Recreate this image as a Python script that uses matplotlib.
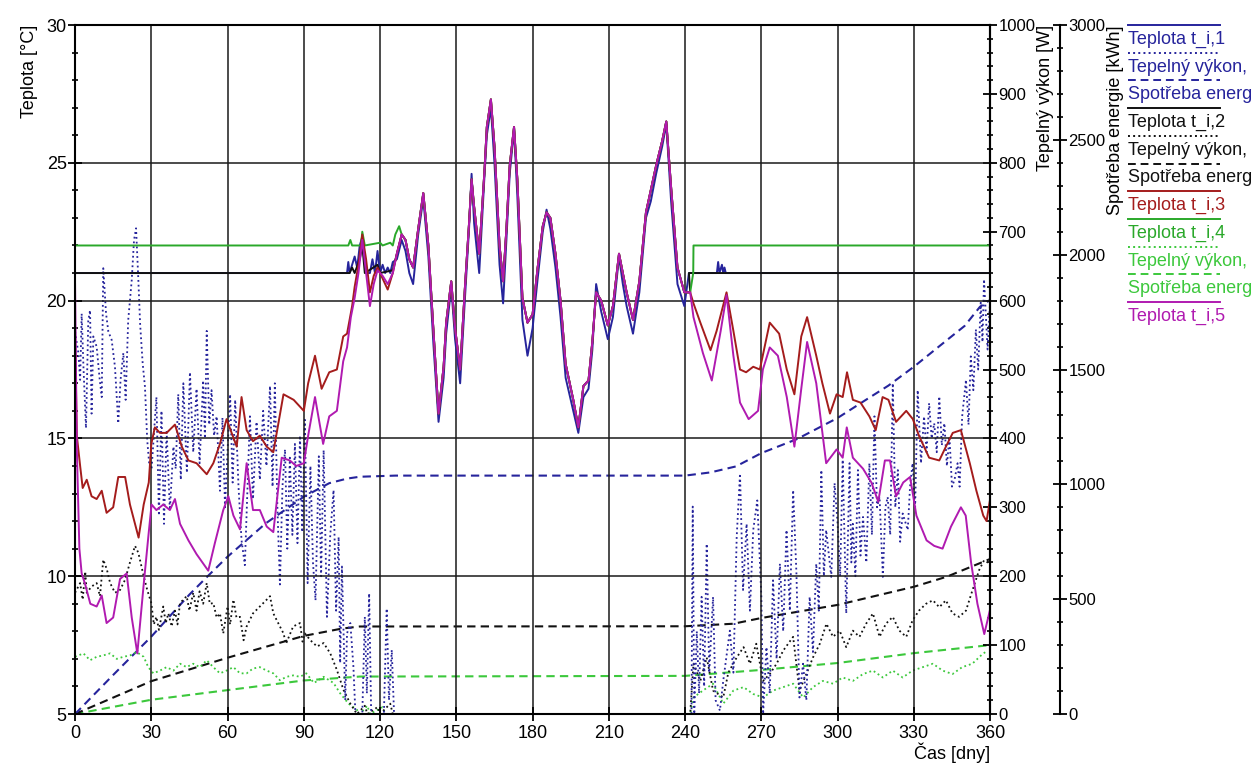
import numpy as np
import matplotlib
matplotlib.use("Agg")
import matplotlib.pyplot as plt
from matplotlib.lines import Line2D
from matplotlib.ticker import MultipleLocator

plt.rcParams['font.family'] = ['Liberation Sans', 'DejaVu Sans']
plt.rcParams['font.size'] = 13

# ---- data: (day, value) ----
# zone 3 (red) and zone 5 (magenta) free running in winter/spring [degC]
t3_winter = np.array([(0, 18.8), (0.7, 15.1), (2, 14.0), (3, 13.2), (4.6, 13.5), (6.5, 12.9), (8.5, 12.8), (10.5, 13.1),
                      (12.4, 12.3), (15, 12.5), (17, 13.6), (19.7, 13.6), (21.6, 12.6), (23.6, 11.9), (25, 11.4), (27, 12.6),
                      (29, 13.4), (30, 14.8), (31.4, 15.4), (33.4, 15.2), (36, 15.2), (39.3, 15.5), (42, 14.7), (44.6, 14.2),
                      (47.8, 14.1), (51.8, 13.7), (54.4, 14.1), (57, 14.8), (59.6, 15.7), (61.6, 15.2), (63.6, 14.7),
                      (65.5, 16.5), (67.5, 15.3), (70, 14.9), (72.7, 15.1), (75.4, 14.7), (78, 14.5), (82, 16.6), (86, 16.4),
                      (90, 16.0), (91.7, 17.0), (94.4, 18.0), (97, 16.8), (100, 17.4), (103, 17.5), (105.5, 18.7), (107, 18.8),
                      (109, 19.8), (110, 20.5), (111.5, 21.3), (113, 22.4), (114.5, 21.5), (116, 20.3), (117.5, 20.9),
                      (119, 21.2), (121, 20.8), (123, 20.4), (125, 21.0)])
t5_winter = np.array([(0, 20.6), (0.7, 14.6), (1.7, 11.0), (2.6, 10.1), (4, 9.7), (6, 9.0), (8.5, 8.9), (10.5, 9.3),
                      (12.4, 8.3), (15, 8.5), (17.7, 9.9), (20.3, 10.1), (22.3, 8.5), (24.5, 7.2), (27, 9.7), (29, 11.6),
                      (30.1, 12.6), (32, 12.4), (34.7, 12.6), (37.3, 12.4), (39.3, 12.8), (41.3, 11.9), (44.6, 11.3),
                      (47.8, 10.8), (52.4, 10.2), (55, 11.2), (58.3, 12.4), (60.3, 12.9), (62.3, 12.2), (64.9, 11.7),
                      (67.5, 14.1), (70, 12.4), (72.7, 12.4), (75.4, 11.8), (78, 11.6), (81.3, 14.3), (84.5, 14.2), (87, 14.0),
                      (90, 14.1), (91.7, 15.1), (94.4, 16.5), (97.6, 14.8), (100, 15.8), (103, 16.0), (105.5, 17.8),
                      (107, 18.3), (108.5, 19.4), (110, 20.1), (111.5, 21.0), (113, 22.2), (114.5, 21.0), (116, 19.8),
                      (117.5, 20.6), (119, 21.1), (121, 20.9), (123, 20.6), (125, 21.0)])

# summer: all zones float together
t_summer = np.array([(126.6, 21.7), (128.5, 22.4), (130, 22.2), (131.5, 21.5), (133, 21.2), (135, 22.6), (137, 23.9),
                     (139, 22.0), (141, 18.9), (143, 15.9), (145, 17.6), (146, 19.2), (148, 20.7), (149.5, 19.0),
                     (151.5, 17.5), (153.4, 20.5), (155, 22.8), (156, 24.4), (157, 23.4), (159, 21.7), (161, 24.6),
                     (162, 26.3), (163.6, 27.3), (165, 25.6), (167, 22.0), (168.4, 20.7), (169.7, 22.6), (171, 24.9),
                     (172.7, 26.3), (174, 24.4), (176, 20.1), (178, 19.2), (180, 19.5), (182, 21.2), (184, 22.7),
                     (185.5, 23.2), (187, 23.0), (189, 21.7), (191, 20.0), (193, 17.7), (196, 16.4), (198, 15.4),
                     (200, 16.9), (202, 17.1), (203.5, 18.5), (205, 20.3), (207, 20.0), (209.6, 19.1), (211.6, 19.8),
                     (214, 21.7), (215.5, 21.0), (217, 20.3), (219.5, 19.3), (222, 20.7), (224.6, 23.2), (226.5, 24.0),
                     (228.6, 24.9), (231, 25.8), (232.6, 26.5), (234.5, 24.1), (237, 21.2), (239.7, 20.3), (242, 20.3)])
# zone 1 dips a little deeper
t1_summer = np.array([(126.6, 21.5), (128.5, 22.2), (130, 21.8), (131.5, 21.0), (133, 20.6), (135, 22.4), (137, 23.7),
                      (139, 21.6), (141, 18.4), (143, 15.6), (145, 17.2), (146, 18.8), (148, 20.5), (149.5, 18.6),
                      (151.5, 17.0), (153.4, 20.1), (155, 22.6), (156, 24.6), (157, 22.8), (159, 21.0), (161, 24.4),
                      (162, 26.0), (163.6, 27.0), (165, 25.0), (167, 21.3), (168.4, 19.9), (169.7, 22.2), (171, 24.6),
                      (172.7, 26.2), (174, 23.8), (176, 19.3), (178, 18.0), (180, 19.0), (182, 20.8), (184, 22.5),
                      (185.5, 23.3), (187, 22.6), (189, 21.2), (191, 19.4), (193, 17.2), (196, 16.0), (198, 15.2),
                      (200, 16.5), (202, 16.8), (203.5, 18.2), (205, 20.6), (207, 19.6), (209.6, 18.6), (211.6, 19.4),
                      (214, 21.6), (215.5, 20.6), (217, 19.8), (219.5, 18.8), (222, 20.3), (224.6, 23.0), (226.5, 23.6),
                      (228.6, 24.6), (231, 25.6), (232.6, 26.4), (234.5, 23.6), (237, 20.6), (239.7, 19.8)])

# heated zones around the set point in spring
t1_spring = np.array([(0, 21), (107, 21), (107.5, 21.4), (108, 21), (109, 21.3), (110, 21.6), (111, 21.2), (112, 22.0),
                      (113, 22.3), (114, 21.4), (115, 21.0), (116, 21.0), (117, 21.5), (118, 21.0), (119, 21.8),
                      (120, 21.0), (121, 21.3), (122, 21.0), (123, 21.2), (124, 21.0), (125, 21.4)])
t2_spring = np.array([(0, 21), (108, 21), (109, 21.2), (110, 21), (112, 21.5), (113, 22.0), (114, 21), (119, 21.3),
                      (120, 21), (125, 21.1)])
t4_spring = np.array([(0, 22), (107.5, 22), (108.3, 22.2), (109, 22), (112.5, 22.0), (113, 22.5), (114, 22.0),
                      (120, 22.1), (121, 22), (124, 22.1), (125, 22), (126, 22.4), (127.5, 22.7)])

# autumn
t1_autumn = np.array([(241.5, 21.0), (252.5, 21.0), (253, 21.4), (253.5, 21.0), (254.5, 21.3), (255, 21.0),
                      (255.5, 21.2), (256, 21.0), (360, 21.0)])
t2_autumn = np.array([(241.5, 21.0), (360, 21.0)])
t4_autumn = np.array([(243.2, 21.0), (243.3, 22.0), (360, 22.0)])
t3_autumn = np.array([(243.3, 19.9), (246, 19.2), (250, 18.2), (252.4, 18.9), (256.3, 20.3), (259, 18.9), (261.6, 17.5),
                      (264, 17.4), (266.8, 17.6), (269.4, 17.5), (273.3, 19.2), (277, 18.8), (280, 17.5), (283, 16.6),
                      (285.7, 18.7), (288, 19.4), (291.6, 18.0), (294, 17.0), (297, 15.9), (299.6, 16.6), (302, 16.5),
                      (303.7, 17.4), (306, 16.4), (309, 16.3), (312.5, 15.8), (315, 15.3), (317.7, 16.5), (320, 16.4),
                      (323, 15.6), (327, 16.0), (329.6, 15.7), (332, 15.1), (336, 14.3), (340, 14.2), (342.6, 14.7),
                      (345.3, 15.2), (348.5, 15.3), (352, 14.1), (354.6, 13.1), (357.3, 12.2), (358.6, 12.0), (360, 12.8)])
t5_autumn = np.array([(243.3, 19.4), (247, 18.1), (250.5, 17.1), (254, 18.9), (256.3, 20.2), (259, 18.0), (261.6, 16.3),
                      (265, 15.7), (268.7, 16.0), (270.6, 17.5), (273.3, 18.3), (276.5, 18.0), (280, 16.5), (283, 14.7),
                      (285.7, 16.8), (288, 18.5), (291.6, 17.0), (295.5, 14.1), (299.6, 14.6), (302, 14.3), (303.6, 15.4),
                      (306, 14.3), (310, 13.9), (313.3, 13.4), (316, 12.7), (318.6, 14.2), (320.6, 14.2), (323, 12.9),
                      (325.8, 13.4), (328.5, 13.6), (331, 12.2), (335, 11.3), (338, 11.1), (341.3, 11.0), (344.6, 11.8),
                      (348.5, 12.5), (350.4, 12.2), (352.5, 10.5), (355, 9.0), (357.7, 7.9), (360, 8.8)])

# heating power [W]
q1 = np.array([(0, 555), (1.3, 524), (2, 485), (2.6, 581), (3.3, 504), (4.3, 415), (5.2, 571), (5.9, 586), (6.5, 436),
               (7.2, 548), (8.5, 533), (9.6, 489), (10.5, 460), (11.1, 647), (12.2, 581), (13.1, 555), (14.4, 543),
               (15.7, 504), (17, 422), (17.9, 485), (19, 524), (19.9, 456), (20.9, 571), (22.3, 630), (23.2, 688),
               (24, 705), (24.9, 630), (25.6, 566), (26.6, 509), (27.5, 475), (28.4, 397), (29.2, 362), (30.1, 355),
               (31, 404), (32, 460), (33, 288), (34, 440), (35, 276), (36, 412), (37.3, 296), (38.7, 388), (39.6, 356),
               (40.6, 464), (41.6, 340), (42.6, 480), (44, 350), (45.2, 496), (46.5, 380), (47.8, 472), (49, 364),
               (50.4, 484), (51.1, 400), (51.8, 556), (52.8, 420), (53.7, 470), (54.7, 404), (55.7, 432), (57, 324),
               (58, 430), (59, 300), (61, 464), (62, 336), (63, 456), (64.3, 330), (65.5, 252), (66.8, 216), (68.8, 432),
               (70, 312), (71.4, 424), (72.7, 340), (74, 440), (75.3, 360), (76.7, 476), (77.7, 330), (78.6, 480),
               (79.6, 300), (80.6, 188), (81.6, 330), (82.6, 384), (83.5, 240), (84.5, 372), (85.5, 260), (86.5, 392),
               (87.5, 248), (88.5, 404), (89.4, 264), (90.4, 427), (91.5, 190), (92.6, 360), (93.6, 220), (94.6, 165),
               (95.9, 374), (96.8, 200), (97.8, 383), (99.1, 141), (100.4, 260), (101.7, 325), (102.7, 150),
               (103.7, 257), (104.3, 74), (105, 214), (106.3, 20), (107, 117), (108.3, 132), (109.5, 69), (110.3, 0),
               (113, 0), (114, 141), (114.8, 30), (115.7, 175), (116.5, 0), (121.5, 0), (122.6, 153), (123.5, 20),
               (124.6, 93), (125.5, 0), (242.5, 0), (243, 301), (243.6, 0), (244.6, 120), (245.5, 30), (246.5, 170),
               (247.5, 40), (248.5, 247), (249.5, 60), (251, 170), (252, 20), (253.7, 5), (255, 48), (257.6, 121),
               (259, 60), (260.3, 257), (261.6, 349), (262.8, 180), (264.2, 276), (265.5, 150), (266.8, 267),
               (268.4, 310), (270, 170), (270.7, 0), (272, 97), (273.3, 30), (274.6, 194), (276, 80), (277.3, 218),
               (278.6, 120), (279.9, 267), (281.2, 150), (282.5, 325), (283.8, 204), (285, 24), (286.4, 73),
               (287.7, 20), (289, 170), (290.3, 90), (291.6, 218), (292.6, 150), (293.6, 354), (294.6, 200),
               (295.5, 267), (297.5, 199), (298.8, 335), (300, 276), (301, 200), (302, 369), (303.4, 146), (304.7, 364),
               (305.4, 220), (306, 276), (307, 200), (308, 354), (309, 230), (310, 286), (311.3, 220), (312.5, 364),
               (313.5, 260), (314.5, 432), (315.5, 300), (316.5, 315), (317.8, 199), (318.8, 300), (319.7, 315),
               (320.7, 260), (321.7, 480), (322.7, 300), (323.7, 354), (324.6, 250), (325.6, 291), (327.6, 267),
               (328.5, 330), (329.5, 364), (330.5, 300), (331.5, 470), (332.8, 364), (334, 432), (335, 380), (336, 451),
               (337, 400), (338, 422), (339, 380), (340, 461), (341, 390), (342, 422), (343, 360), (344, 403), (345, 330),
               (346, 340), (347.2, 364), (348, 330), (349, 432), (350.5, 485), (351.5, 420), (352.4, 519), (353.4, 470),
               (354.4, 558), (355.3, 500), (356.3, 597), (357, 540), (357.6, 631), (359, 529), (360, 600)])
q2 = np.array([(0, 176), (2, 190), (3, 166), (4, 207), (4.6, 176), (6.5, 185), (8.5, 190), (9.8, 171), (11.1, 224),
               (12.5, 210), (13.8, 190), (15.7, 176), (17.7, 180), (19.7, 195), (21.6, 220), (23.6, 244), (24.9, 234),
               (27, 200), (28.4, 180), (30, 161), (31, 130), (32, 141), (33, 122), (34.7, 156), (35.7, 132), (36.7, 146),
               (38, 127), (39.3, 150), (40.3, 130), (41.3, 161), (43.9, 171), (45, 150), (46.5, 176), (47.8, 150),
               (49, 178), (50.4, 160), (51.8, 190), (53, 160), (54.4, 161), (55.7, 140), (57, 146), (58.3, 117),
               (60, 156), (61, 130), (62.3, 166), (63.5, 140), (64.9, 141), (66.3, 107), (67.5, 127), (70, 146),
               (72.7, 156), (75.4, 166), (76.7, 171), (78, 146), (80.6, 127), (82, 117), (83, 102), (85.8, 127),
               (88.5, 132), (89.5, 105), (90.4, 117), (92.6, 107), (95.2, 98), (97.8, 103), (100.4, 88), (103, 64),
               (105.6, 35), (108.3, 15), (110.9, 0), (114, 12), (115, 0), (119, 10), (120, 0), (124, 15), (125, 0),
               (242, 0), (243.3, 73), (246, 48), (248.5, 82), (251, 34), (255, 24), (257, 60), (260.3, 82), (263, 97),
               (265.5, 73), (268, 102), (270.7, 48), (273.3, 58), (276, 73), (278.6, 92), (282.5, 112), (285, 34),
               (287.7, 58), (290.3, 82), (293, 102), (295.6, 131), (298.2, 112), (300.8, 121), (303.4, 97), (306, 121),
               (308.6, 112), (311.2, 131), (313.9, 146), (316.5, 112), (319, 131), (321.7, 141), (324.3, 121),
               (327, 112), (329.5, 136), (332, 150), (334.8, 160), (337.5, 165), (340, 155), (342.6, 165), (345.2, 146),
               (347.8, 141), (350.5, 150), (353, 179), (355.7, 209), (357.6, 223), (360, 218)])
q4 = np.array([(0, 83), (3.3, 88), (5.9, 78), (8.5, 83), (11.1, 85), (13.8, 88), (16.4, 80), (19, 83), (21.6, 85),
               (24.2, 90), (27, 83), (28.8, 68), (30.8, 59), (33.4, 63), (36, 68), (38.7, 63), (41.3, 73), (43.9, 68),
               (46.5, 73), (49.1, 68), (51.8, 78), (54.4, 68), (57, 59), (59.6, 63), (62.3, 68), (64.9, 59), (67.5, 59),
               (70, 66), (72.7, 68), (75.4, 63), (78, 59), (80.6, 49), (83.2, 54), (85.8, 56), (88.5, 54), (91, 59),
               (94, 45), (97.8, 54), (101.7, 45), (104.3, 30), (107.6, 15), (110.9, 6), (112, 0), (115, 12), (116, 0),
               (121, 10), (122, 0), (242, 0), (243.3, 24), (247, 34), (251, 44), (255, 15), (259, 34), (263, 39),
               (266.8, 29), (270.7, 24), (274.6, 34), (278.6, 39), (282.5, 44), (286.5, 24), (290.3, 39), (294.2, 48),
               (298.2, 44), (302, 53), (306, 48), (310, 58), (313.9, 63), (317.8, 53), (321.7, 63), (325.6, 53),
               (329.5, 63), (333.5, 68), (337.5, 73), (341.3, 63), (345.2, 58), (349, 68), (353, 73), (357, 87),
               (359, 92)])

# cumulative energy [kWh]
e1 = np.array([(0, 0), (15, 170), (30, 337), (45, 520), (52, 598), (60, 685), (75, 830), (90, 946), (100, 1005),
               (107, 1025), (112, 1033), (126, 1038), (240, 1038), (250, 1052), (260, 1078), (270, 1136), (284, 1197),
               (300, 1289), (311, 1367), (320, 1430), (330, 1512), (343, 1628), (350, 1690), (356, 1773), (360, 1803)])
e2 = np.array([(0, 0), (30, 143), (60, 245), (90, 340), (105, 372), (112, 381), (240, 382), (259, 393), (270, 418),
               (300, 475), (330, 554), (343, 598), (360, 675)])
e4 = np.array([(0, 0), (30, 62), (60, 104), (90, 146), (112, 163), (240, 166), (270, 192), (300, 222), (330, 265),
               (360, 300)])

C1, C2, C3, C4, C4L, C5 = '#26249c', '#111111', '#a41c1c', '#2aa82a', '#3cc83c', '#b01ab0'
DASH = (0, (4, 2.5))

fig = plt.figure(figsize=(12.53, 7.67), dpi=100)
ax = fig.add_axes([0.0599, 0.0691, 0.7303, 0.8983])
ax2 = ax.twinx()
ax3 = ax.twinx()
ax3.set_zorder(1)
ax2.set_zorder(2)
ax.set_zorder(3)
for a in (ax, ax2, ax3):
    a.patch.set_visible(False)

# heating power (W axis)
ax2.plot(q4[:, 0], q4[:, 1], ':', color=C4L, lw=1.3)
ax2.plot(q2[:, 0], q2[:, 1], ':', color=C2, lw=1.3)
ax2.plot(q1[:, 0], q1[:, 1], ':', color=C1, lw=1.3)
# energy (kWh axis)
ax3.plot(e4[:, 0], e4[:, 1], color=C4L, ls=DASH, lw=1.5)
ax3.plot(e2[:, 0], e2[:, 1], color=C2, ls=DASH, lw=1.5)
ax3.plot(e1[:, 0], e1[:, 1], color=C1, ls=DASH, lw=1.5)

# temperatures
t1 = np.vstack([t1_spring, t1_summer, t1_autumn])
t2 = np.vstack([t2_spring, t_summer, t2_autumn])
t4 = np.vstack([t4_spring, t_summer[1:], t4_autumn])
t3 = np.vstack([t3_winter, t_summer, t3_autumn])
t5 = np.vstack([t5_winter, t_summer, t5_autumn])
ax.plot(t1[:, 0], t1[:, 1], color=C1, lw=1.4)
ax.plot(t2[:, 0], t2[:, 1], color=C2, lw=1.4)
ax.plot(t4[:, 0], t4[:, 1], color=C4, lw=1.4)
ax.plot(t3[:, 0], t3[:, 1], color=C3, lw=1.4)
ax.plot(t5[:, 0], t5[:, 1], color=C5, lw=1.4)

ax.set_xlim(0, 360)
ax.set_ylim(5, 30)
ax2.set_ylim(0, 1000)
ax3.set_ylim(0, 3000)
ax.xaxis.set_major_locator(MultipleLocator(30))
ax.yaxis.set_major_locator(MultipleLocator(5))
ax.yaxis.set_minor_locator(MultipleLocator(1))
ax2.yaxis.set_major_locator(MultipleLocator(100))
ax2.yaxis.set_minor_locator(MultipleLocator(20))
ax3.yaxis.set_major_locator(MultipleLocator(500))
ax3.yaxis.set_minor_locator(MultipleLocator(100))

ax.grid(True, which='major', color='#1a1a1a', lw=1.1)
for a in (ax, ax2, ax3):
    a.tick_params(which='major', direction='inout', length=10, width=1.3, pad=1, labelsize=12)
    a.tick_params(which='minor', direction='inout', length=5, width=1.2)
    for s in a.spines.values():
        s.set_linewidth(1.5)
ax.tick_params(axis='x', pad=3, labelsize=13)
ax.tick_params(axis='y', labelsize=13)
for s in ('left', 'top', 'bottom'):
    ax2.spines[s].set_visible(False)
    ax3.spines[s].set_visible(False)
ax3.spines['right'].set_position(('axes', 1.0765))

ax.set_ylabel('Teplota [°C]', loc='top', labelpad=6)
ax2.set_ylabel('Tepelný výkon [W]', loc='top', labelpad=1)
ax3.set_ylabel('Spotřeba energie [kWh]', loc='top', labelpad=1)
ax.set_xlabel('Čas [dny]', loc='right', labelpad=0)

# legend outside on the right: line sample above its label (cut by the image edge as in the source)
legend_items = [('Teplota t_i,1', C1, '-'), ('Tepelný výkon,', C1, ':'), ('Spotřeba energ', C1, DASH),
                ('Teplota t_i,2', C2, '-'), ('Tepelný výkon,', C2, ':'), ('Spotřeba energ', C2, DASH),
                ('Teplota t_i,3', C3, '-'), ('Teplota t_i,4', C4, '-'), ('Tepelný výkon,', C4L, ':'),
                ('Spotřeba energ', C4L, DASH), ('Teplota t_i,5', C5, '-')]
W, H = 1253, 767
for i, (label, col, ls) in enumerate(legend_items):
    yl = 25 + 27.7 * i
    fig.add_artist(Line2D([1128 / W, 1220 / W], [1 - yl / H, 1 - yl / H], color=col, ls=ls, lw=1.4))
    fig.text(1128 / W, 1 - (yl + 19) / H, label, color=col, va='baseline', ha='left', fontsize=13)

fig.savefig('out.png', dpi=100)
